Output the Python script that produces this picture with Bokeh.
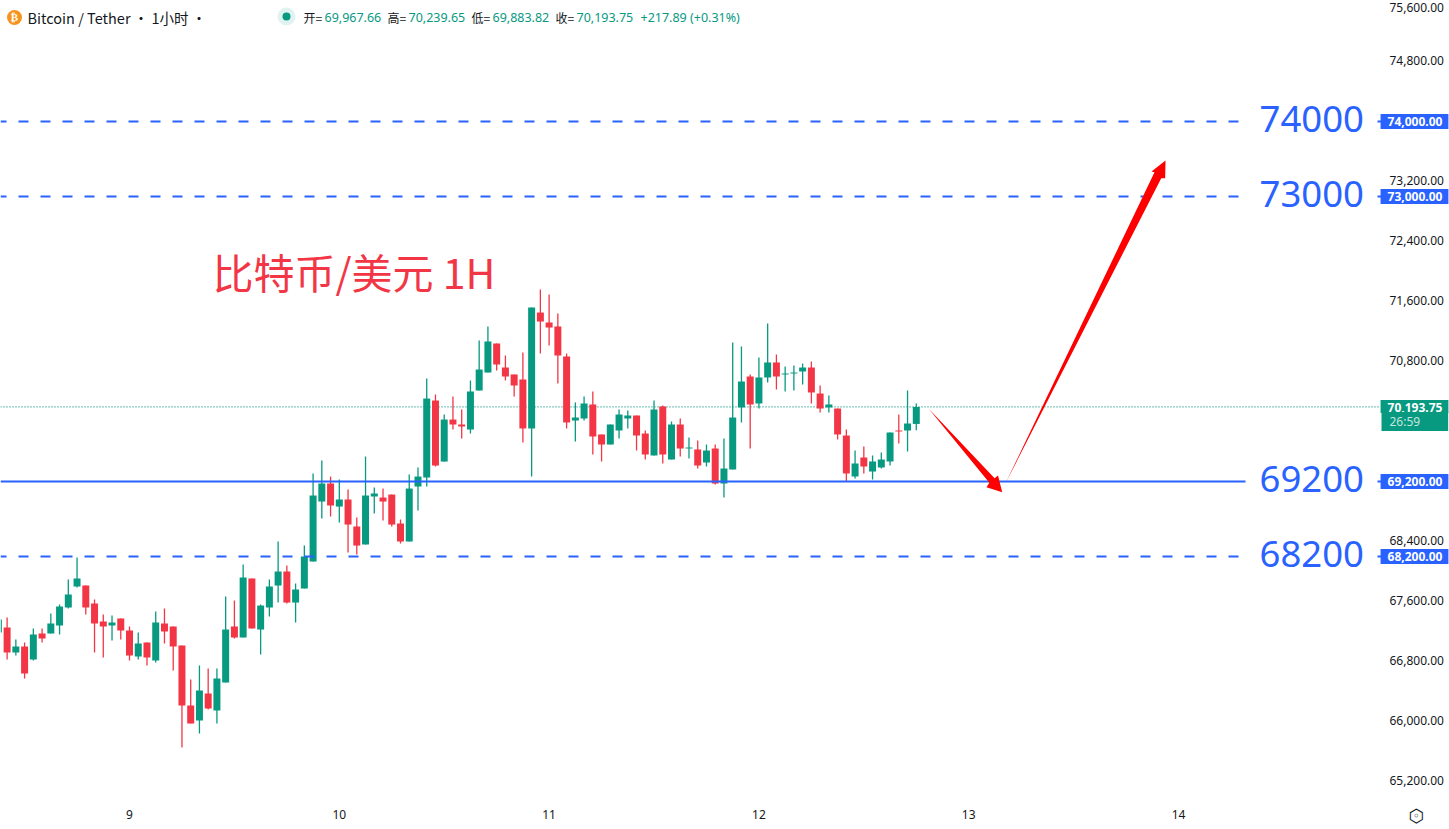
from bokeh.plotting import figure, ColumnDataSource
from bokeh.models import Range1d, Label, FixedTicker
from bokeh.embed import file_html
from bokeh.resources import INLINE

# candles: (open, high, low, close), hour index from -15, 0 = start of day 9
opens = [67187,67253,66920,67000,66827,67173,67173,67280,67520,67800,67813,67573,67333,67280,67373,
         67213,66866,67053,66813,67306,67266,67013,66213,66013,66373,66146,66520,67266,67120,67906,
         67226,67520,67813,68000,67586,67773,68133,68933,69173,68866,68960,68600,68360,69000,68986,
         69026,68640,68400,69133,69253,70280,69466,70026,69960,69893,70413,70653,71040,70720,70627,
         70560,69907,71453,71320,71267,70867,70013,70040,70227,69827,69693,69880,70040,70080,69840,
         69547,70200,69493,69960,69640,69627,69453,69640,69173,69360,70187,70600,70240,70587,70787,
         70627,70640,70667,70720,70373,70187,70173,69813,69267,69520,69333,69387,69467,69880,69880,69967.66]
highs = [67400,67386,67093,67053,67240,67240,67440,67560,67893,68186,67813,67626,67426,67413,67373,
         67266,67186,67053,67466,67506,67266,67013,66560,66746,66706,66706,67666,67613,68093,67906,
         67560,67893,68400,68080,67840,68346,69306,69480,69266,69226,69093,68720,69533,69120,69106,
         69026,68693,69293,69386,70573,70360,70093,70333,70160,70546,71080,71267,71040,70880,70627,
         70920,71520,71760,71693,71440,70907,70253,70333,70400,69827,69960,70160,70147,70080,69880,
         70280,70213,70000,70040,69787,69747,69693,69693,69773,71053,71000,70627,70853,71307,70893,
         70733,70747,70773,70800,70480,70347,70173,69893,69613,69667,69547,69587,69853,70093,70413,70239.65]
lows = [67150,66827,66880,66573,66813,67053,67173,67160,67506,67786,67426,66920,66853,67080,67093,
        66813,66827,66746,66786,67040,66680,65653,65973,65840,66160,65973,66520,67106,67120,67240,
        66893,67400,67586,67573,67320,67773,68133,68706,68733,68653,68253,68226,68360,68773,68680,
        68600,68373,68400,68813,69133,69400,69466,69893,69773,69840,70413,70653,70680,70547,70333,
        69720,69267,70907,71013,70507,69907,69733,70013,69560,69467,69693,69773,69907,69613,69493,
        69547,69440,69493,69533,69507,69373,69400,69160,68987,69360,69987,69640,70173,70520,70427,
        70400,70413,70493,70240,70120,70120,69760,69200,69240,69307,69227,69373,69413,69707,69600,69883.82]
closes = [67360,66920,67000,66640,67160,67107,67306,67533,67693,67906,67520,67306,67266,67320,67213,
          66880,67040,66853,67320,67200,67000,66213,65973,66413,66173,66573,67226,67120,67920,67240,
          67546,67800,68000,67586,67760,68200,69013,69173,68880,68960,68626,68346,69013,69040,68933,
          68626,68400,69106,69266,70306,69413,70026,69960,69933,70400,70693,71067,70760,70600,70480,
          69907,71520,71333,71253,70880,69987,70053,70240,69800,69693,69960,70093,70080,69813,69560,
          70160,69560,69960,69640,69653,69413,69613,69173,69373,70053,70533,70227,70587,70787,70600,
          70640,70653,70720,70387,70173,70227,69827,69307,69440,69400,69467,69493,69853,69867,69973,70193.75]
hours = list(range(-15, -15 + len(opens)))

level_dashed = [74000, 73000, 68200]
level_solid = [69200]
big_labels = ["74000", "73000", "69200", "68200"]
big_values = [74000, 73000, 69200, 68200]
box_labels = ["74,000.00", "73,000.00", "69,200.00", "68,200.00"]
last_price = 70193.75
price_ticks = [65200, 66000, 66800, 67600, 68400, 70800, 71600, 72400, 73200, 74800]
top_tick_label = "75,600.00"
day_ticks = [0, 24, 48, 72, 96, 120]
day_labels = ["9", "10", "11", "12", "13", "14"]
arrow1_h = [91.40, 98.96, 99.35, 99.83, 98.03, 98.36]
arrow1_p = [70173, 69244, 69280, 69057, 69124, 69183]
arrow2_h = [100.2, 117.25, 116.91, 118.51, 118.47, 118.02]
arrow2_p = [69173, 73324, 73333, 73480, 73244, 73244]

TEAL = "#089981"; RED = "#F23645"; BLUE = "#2962FF"; INK = "#131722"
CJK = "Noto Sans CJK SC"

PX_PER_HOUR = 8.742; PX_PER_USD = 0.075
def fx(px): return (px - 129) / PX_PER_HOUR
def fy(py): return 74000 - (py - 121) / PX_PER_USD

p = figure(width=1449, height=829, output_backend="svg", toolbar_location=None,
           x_range=Range1d(fx(0), fx(1449)), y_range=Range1d(fy(829), fy(0)),
           min_border_left=0, min_border_top=0, min_border_right=0, min_border_bottom=0,
           background_fill_color="white", border_fill_color="white", outline_line_color=None,
           y_axis_location="right")
p.grid.visible = False
# the price labels sit 1.5px above their level in the reference
p.extra_y_ranges = {"labels": Range1d(fy(829) - 20, fy(0) - 20)}

for ax in (p.xaxis[0], p.yaxis[0]):
    ax.axis_line_color = None
    ax.major_tick_line_color = None
    ax.minor_tick_line_color = None
    ax.major_tick_out = 0
    ax.major_tick_in = 0
    ax.major_label_text_color = INK
    ax.major_label_text_font = "Noto Sans"
    ax.major_label_text_font_size = "12px"
p.xaxis[0].ticker = FixedTicker(ticks=day_ticks)
p.xaxis[0].major_label_overrides = dict(zip(day_ticks, day_labels))
p.xaxis[0].major_label_standoff = 9
p.xaxis[0].fixed_location = fy(800)
p.yaxis[0].y_range_name = "labels"
p.yaxis[0].ticker = FixedTicker(ticks=price_ticks)
p.yaxis[0].major_label_overrides = {t: f"{t:,.2f}" for t in price_ticks}
p.yaxis[0].major_label_standoff = 9
p.yaxis[0].fixed_location = fx(1380)

# last price dotted line, under the candles
p.segment(x0=[fx(0)], x1=[fx(1380)], y0=[last_price], y1=[last_price], line_color=TEAL, line_width=1.3, line_dash="1 2")

colors = [TEAL if c >= o else RED for o, c in zip(opens, closes)]
src = ColumnDataSource(dict(x=hours, o=opens, h=highs, l=lows, c=closes, color=colors,
                            top=[max(a, b) for a, b in zip(opens, closes)],
                            bottom=[min(a, b) for a, b in zip(opens, closes)]))
p.segment(x0="x", x1="x", y0="l", y1="h", line_color="color", line_width=1.3, source=src)
p.vbar(x="x", width=0.8, top="top", bottom="bottom", fill_color="color", line_color=None, source=src)

# levels
for v in level_dashed:
    p.segment(x0=[fx(0)], x1=[fx(1245)], y0=[v], y1=[v], line_color=BLUE, line_width=2, line_dash="10 12", line_dash_offset=4)
    p.segment(x0=[fx(1377)], x1=[fx(1381)], y0=[v], y1=[v], line_color=BLUE, line_width=2)
for v in level_solid:
    p.segment(x0=[fx(0)], x1=[fx(1245)], y0=[v], y1=[v], line_color=BLUE, line_width=2)
    p.segment(x0=[fx(1377)], x1=[fx(1381)], y0=[v], y1=[v], line_color=BLUE, line_width=2)

# arrows
p.patch(arrow1_h, arrow1_p, fill_color="#FF0000", line_color=None)
p.patch(arrow2_h, arrow2_p, fill_color="#FF0000", line_color=None)

def label(text, px, py, size, color, font=CJK, align="left", style="normal", bg=None, pad=None):
    kw = {}
    if bg is not None:
        kw["background_fill_color"] = bg
        kw["background_fill_alpha"] = 1
    if pad is not None:
        kw["padding"] = pad
    p.add_layout(Label(x=fx(px), y=fy(py), text=text, text_font=font, text_font_size=size,
                       text_color=color, text_align=align, text_baseline="middle", text_font_style=style, **kw))

# big level labels
for t, v in zip(big_labels, big_values):
    label(t, 1259, 121 + (74000 - v) * PX_PER_USD - 3, "36.5px", BLUE, font="Noto Sans")
# title
label("比特币/美元 1H", 212, 270, "41px", RED)

# price boxes in the axis gutter
for t, v in zip(box_labels, big_values):
    label(t, 1414, 121 + (74000 - v) * PX_PER_USD, "12px", "white", font="Noto Sans", align="center",
          style="bold", bg=BLUE, pad=(7, 6, 3, 3))
label("70,193.75", 1414, 406, "12px", "white", font="Noto Sans", align="center", style="bold", bg=TEAL, pad=(7, 6, 3, 1))
label("26:59", 1381, 421, "12px", "#C4E6DF", font="Noto Sans", bg=TEAL, pad=(8, 28, 1, 1))

# topmost price label, kept fully inside the picture
label(top_tick_label, 1389, 7, "12px", INK, font="Noto Sans")

# settings icon
label("⬡", 1416, 815, "18px", INK, font="DejaVu Sans", align="center")
label("◦", 1416, 815, "12px", INK, font="DejaVu Sans", align="center")

# header
p.scatter([fx(14)], [fy(17)], size=15, fill_color="#F7931A", line_color=None)
label("₿", 14, 17, "11px", "white", font="DejaVu Sans", align="center", style="bold")
label("Bitcoin / Tether · 1小时 ·", 27, 17, "14.5px", INK)
p.scatter([fx(286)], [fy(16)], size=18, fill_color=TEAL, fill_alpha=0.12, line_color=None)
p.scatter([fx(286)], [fy(16)], size=8, fill_color=TEAL, line_color=None)
ohlc = [("开=", 303, "69,967.66", 324), ("高=", 387, "70,239.65", 408),
        ("低=", 471, "69,883.82", 492), ("收=", 555, "70,193.75", 576)]
for a, ax_, b, bx in ohlc:
    label(a, ax_, 17, "12px", INK)
    label(b, bx, 17, "12.5px", TEAL, font="Noto Sans")
label("+217.89 (+0.31%)", 640, 17, "12.5px", TEAL, font="Noto Sans")

open("out.html", "w").write(file_html(p, INLINE))
